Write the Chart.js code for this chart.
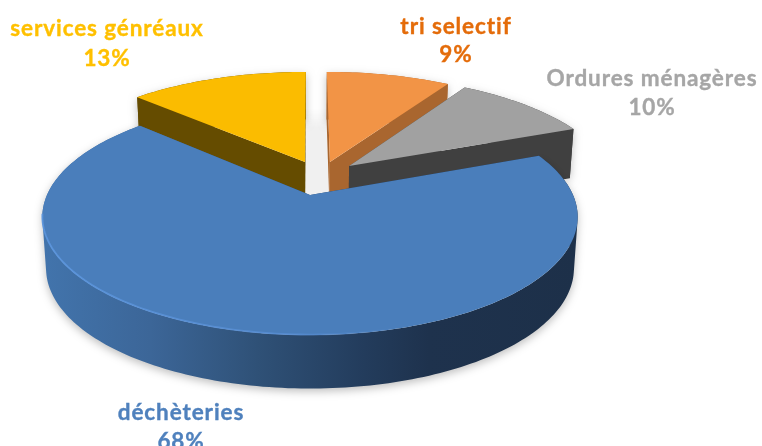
<!DOCTYPE html>
<html><head><meta charset="utf-8">
<script src="https://cdn.jsdelivr.net/npm/chart.js@4"></script>
<style>html,body{margin:0;padding:0;background:#fff;overflow:hidden}canvas{display:block;filter:blur(0.5px)}</style>
</head><body><canvas id="c" width="762" height="446"></canvas>
<script>
const categories = ["services génréaux", "tri selectif", "Ordures ménagères", "déchèteries"];
const percents = [13, 9, 10, 68];
const topColors = ["#FBBC00", "#F29446", "#A1A1A1", "#4A7EBB"];
const wallColors = ["#654C00", "#A9662F", "#404040", null];
const labelColors = ["#FFC000", "#E46C0A", "#A6A6A6", "#4F81BD"];
const labelCenters = [[107, 29, 59], [456, 27, 55], [652, 79, 108], [181, 413, 442]];
// per-slice explosion of the apex on the pie's disc, and outer radius factor
const explodeU = [-0.02, 0.08, 0.156, 0];
const explodeV = [-0.306, -0.306, -0.267, 0];
const radiusK = [1.045, 1.045, 1.04, 1];

// perspective camera of the 3D pie
const cam = {cx: 310, cy: 195, rx: 263, ry: 114, p: 0.186, wall: 51, wallSlope: 2.5, taper: 0.014};
function project(u, v, z) {
  const w = 1 - cam.p * v;
  return [cam.cx + cam.rx * u / w * (1 - cam.taper * z), cam.cy + cam.ry * v / w + z * (cam.wall + cam.wallSlope * v)];
}
function arcPoints(i, a0, a1, z) {
  const pts = [], n = Math.max(8, Math.ceil((a1 - a0) / 0.02));
  for (let k = 0; k <= n; k++) {
    const a = a0 + (a1 - a0) * k / n;
    pts.push(project(explodeU[i] + radiusK[i] * Math.cos(a), explodeV[i] + radiusK[i] * Math.sin(a), z));
  }
  return pts;
}
function poly(ctx, pts) {
  ctx.beginPath();
  pts.forEach((p, k) => k ? ctx.lineTo(p[0], p[1]) : ctx.moveTo(p[0], p[1]));
  ctx.closePath();
}
// the wall as a true sweep: one path of consistently wound quads between the two arcs
function sweep(ctx, top, bot) {
  ctx.beginPath();
  for (let k = 0; k < top.length - 1; k++) {
    let q = [top[k], top[k + 1], bot[k + 1], bot[k]];
    let area = 0;
    q.forEach((p, j) => { const r = q[(j + 1) % 4]; area += p[0] * r[1] - r[0] * p[1]; });
    if (area < 0) q = q.reverse();
    q.forEach((p, j) => j ? ctx.lineTo(p[0], p[1]) : ctx.moveTo(p[0], p[1]));
    ctx.closePath();
  }
}
const pie3d = {
  id: 'pie3d',
  beforeDatasetsDraw(chart) {
    const ctx = chart.ctx, arcs = chart.getDatasetMeta(0).data;
    ctx.save();
    // soft grey between the two back slices
    const g0 = ctx.createLinearGradient(0, 108, 0, 128);
    g0.addColorStop(0, 'rgba(240,240,240,0)'); g0.addColorStop(1, 'rgba(240,240,240,1)');
    ctx.fillStyle = g0;
    ctx.fillRect(305, 108, 24, 86);
    arcs.forEach((el, i) => {
      const a0 = el.startAngle, a1 = el.endAngle;
      const topArc = arcPoints(i, a0, a1, 0), botArc = arcPoints(i, a0, a1, 1);
      const apexT = project(explodeU[i], explodeV[i], 0), apexB = project(explodeU[i], explodeV[i], 1);
      let wall = wallColors[i];
      if (!wall) {
        wall = ctx.createLinearGradient(43, 0, 579, 0);
        [[0, '#4274AC'], [0.2, '#3C6698'], [0.4, '#2F5177'], [0.6, '#233C5C'], [0.72, '#1E324D'], [1, '#1D3049']]
          .forEach(s => wall.addColorStop(s[0], s[1]));
      }
      ctx.fillStyle = wall;
      ctx.save();
      ctx.shadowColor = 'rgba(0,0,0,0.25)'; ctx.shadowBlur = 9; ctx.shadowOffsetY = 3;
      sweep(ctx, topArc, botArc); ctx.fill();
      ctx.restore();
      poly(ctx, [apexT, topArc[0], botArc[0], apexB]); ctx.fill();
      poly(ctx, [apexT, topArc[topArc.length - 1], botArc[botArc.length - 1], apexB]); ctx.fill();
      ctx.fillStyle = topColors[i];
      poly(ctx, [apexT].concat(topArc)); ctx.fill();
      if (i === 3) {
        // bevel along the front rim
        const rim = ctx.createLinearGradient(43, 0, 400, 0);
        rim.addColorStop(0, 'rgba(92,150,222,0.9)');
        rim.addColorStop(0.7, 'rgba(88,142,212,0.75)');
        rim.addColorStop(1, 'rgba(88,142,212,0)');
        ctx.strokeStyle = rim; ctx.lineWidth = 1.8;
        const front = topArc.filter(p => p[1] > 212);
        ctx.beginPath();
        front.forEach((p, k) => k ? ctx.lineTo(p[0], p[1] - 0.5) : ctx.moveTo(p[0], p[1] - 0.5));
        ctx.stroke();
      }
    });
    ctx.restore();
    return false;
  },
  afterDraw(chart) {
    const ctx = chart.ctx;
    ctx.save();
    ctx.font = 'bold 22.5px Lato';
    ctx.letterSpacing = '0.9px';
    ctx.textAlign = 'center';
    ctx.textBaseline = 'middle';
    ctx.lineWidth = 0.35;
    categories.forEach((name, i) => {
      ctx.fillStyle = ctx.strokeStyle = labelColors[i];
      [[name, labelCenters[i][1]], [percents[i] + '%', labelCenters[i][2]]].forEach(t => {
        ctx.fillText(t[0], labelCenters[i][0], t[1]);
        ctx.strokeText(t[0], labelCenters[i][0], t[1]);
      });
    });
    ctx.restore();
  }
};
new Chart(document.getElementById('c'), {
  type: 'pie',
  data: {labels: categories, datasets: [{data: percents, backgroundColor: topColors, borderWidth: 0}]},
  options: {
    responsive: false, animation: false,
    rotation: -360 * percents[0] / 100,
    plugins: {legend: {display: false}, tooltip: {enabled: false}}
  },
  plugins: [pie3d]
});
</script></body></html>
